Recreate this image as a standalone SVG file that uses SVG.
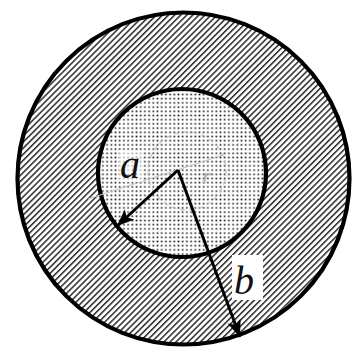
<svg xmlns="http://www.w3.org/2000/svg" width="352" height="349" viewBox="0 0 352 349">
  <style>
    .ring { stroke: #000; stroke-width: 4.2; }
    .arrow { stroke: #000; stroke-width: 3; fill: none; marker-end: url(#head); }
    .lbl { font-family: "Liberation Serif", "Times New Roman", serif; font-style: italic; font-size: 40px; fill: #111; }
    .ghost { stroke: #c4c4c4; stroke-width: 1.2; fill: none; }
  </style>
  <defs>
    <pattern id="hatch" patternUnits="userSpaceOnUse" width="4.3" height="4.3" patternTransform="rotate(45)">
      <rect x="0" y="0" width="4.3" height="4.3" fill="#fff"/>
      <rect x="0" y="0" width="1.5" height="4.3" fill="#2a2a2a"/>
    </pattern>
    <pattern id="dots" patternUnits="userSpaceOnUse" width="4.2" height="4.2">
      <rect x="0" y="0" width="4.2" height="4.2" fill="#fff"/>
      <rect x="1.3" y="1.3" width="1.6" height="1.6" fill="#1a1a1a"/>
    </pattern>
    <marker id="head" markerUnits="userSpaceOnUse" markerWidth="20" markerHeight="16" refX="17" refY="7" orient="auto">
      <path d="M0,0 L17,7 L0,14 L4,7 Z" fill="#000"/>
    </marker>
  </defs>

  <g id="outer">
    <circle class="ring" cx="183.5" cy="178.5" r="166" fill="url(#hatch)"/>
  </g>
  <g id="inner">
    <circle class="ring" cx="182" cy="173" r="84" fill="url(#dots)"/>
  </g>

  <g id="ghost">
    <circle class="ghost" cx="187" cy="171" r="39" stroke-dasharray="5 4"/>
    <line class="ghost" x1="88" y1="199" x2="226" y2="154"/>
    <text x="202" y="184" font-family="Liberation Serif, serif" font-style="italic" font-size="24" fill="#b0b0b0">r</text>
  </g>

  <g id="connectors">
    <line class="arrow" x1="178" y1="170" x2="117" y2="226"/>
    <line class="arrow" x1="178" y1="170" x2="240" y2="337"/>
  </g>

  <g id="label-a">
    <rect x="119" y="150" width="24" height="32" fill="#fff" opacity="0.6"/>
    <text class="lbl" x="120" y="178">a</text>
  </g>
  <g id="label-b">
    <rect x="232" y="255" width="31" height="45" fill="#fff"/>
    <text class="lbl" x="234" y="294">b</text>
  </g>
</svg>
